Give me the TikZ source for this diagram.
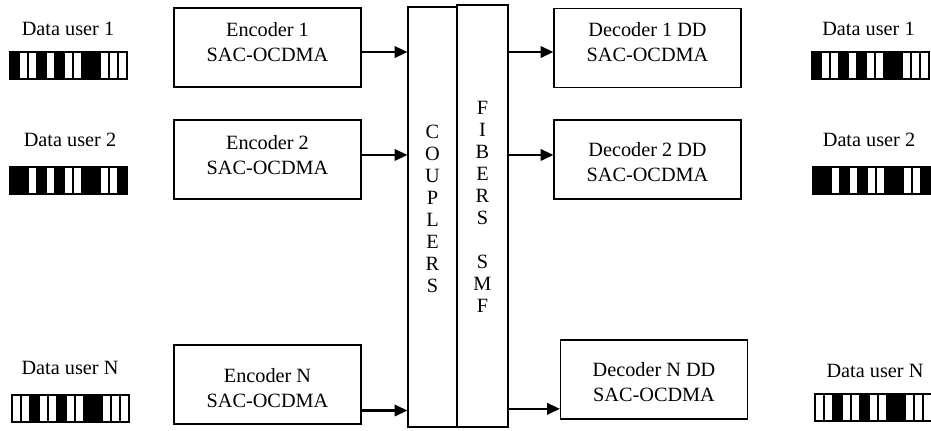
\documentclass[tikz,border=0pt]{standalone}
\usepackage{fontspec}
\setmainfont{Liberation Serif}
\usetikzlibrary{arrows.meta}
\tikzstyle{block} = [rectangle, 
draw=black, line width=0.9pt, 
minimum width=140.25pt, 
minimum height=59.25pt, 
inner sep=0pt]
\tikzstyle{column} = [rectangle, 
draw=black, line width=0.9pt, 
minimum height=315pt, 
inner sep=0pt]
\tikzstyle{txt} = [align=center, inner sep=0pt, 
font=\fontsize{15.2}{18.7}\selectfont]
\tikzstyle{stack} = [align=center, inner sep=0pt, 
font=\fontsize{15.2}{16.5}\selectfont]
\tikzstyle{cell} = [draw=black, line width=1.1pt]
\tikzstyle{arrow} = [line width=1.6pt, -{Triangle[length=9.5pt,width=8.5pt]}]

\begin{document}
\begin{tikzpicture}[x=0.75pt, y=-0.75pt]
\useasboundingbox (0,0) rectangle (931,430);

% data users (senders)
\node (send1) [txt] at (68,28.5) {Data user 1};
\node (send2) [txt] at (70,140) {Data user 2};
\node (sendN) [txt] at (70,367.5) {Data user N};

% data users (receivers)
\node (recv1) [txt] at (868.5,28.5) {Data user 1};
\node (recv2) [txt] at (869,140) {Data user 2};
\node (recvN) [txt] at (875,371) {Data user N};

% bit patterns
\foreach \bx/\by/\code in {10/52/{1,0,0,1,0,1,0,0,1,1,0,0,0},
  10/167/{1,1,0,1,0,1,0,0,1,1,0,0,1},
  12/395/{0,0,1,0,0,1,0,0,1,1,0,0,0},
  812/52/{1,0,0,1,0,1,0,0,1,1,0,0,0},
  813/167/{1,1,0,1,0,1,0,0,1,1,0,0,1},
  815/394/{0,0,1,0,0,1,0,0,1,1,0,0,0}}{
  \foreach \c [count=\i from 0] in \code {
    \ifnum\c=1 \def\cellcol{black}\else\def\cellcol{white}\fi
    \draw [cell, fill=\cellcol] (\bx+\i*9,\by) rectangle ++(9,27);
  }
}

% encoders
\node (enc1) [block] at (267.5,47.5) {};
\node (enc1txt) [txt] at (267.5,42.5) {Encoder 1\\SAC-OCDMA};
\node (enc2) [block] at (267.5,159.5) {};
\node (enc2txt) [txt] at (267.5,155.5) {Encoder 2\\SAC-OCDMA};
\node (encN) [block] at (267.5,384.5) {};
\node (encNtxt) [txt] at (267.5,388) {Encoder N\\SAC-OCDMA};

% couplers and fibers
\node (couplers) [column, minimum width=36.75pt] at (432.5,217) {};
\node (fibers) [column, minimum width=38.25pt, minimum height=316.5pt] at (482.5,216) {};
\node (couplerstxt) [stack] at (432.5,209) {C\\O\\U\\P\\L\\E\\R\\S};
\node (fiberstxt) [stack] at (482.5,207) {F\\I\\B\\E\\R\\S\\[16.5pt]S\\M\\F};

% decoders
\node (dec1) [block] at (647.5,48) {};
\node (dec1txt) [txt] at (647.5,42.5) {Decoder 1 DD\\SAC-OCDMA};
\node (dec2) [block] at (647.5,159.5) {};
\node (dec2txt) [txt] at (647.5,162) {Decoder 2 DD\\SAC-OCDMA};
\node (decN) [block] at (654,379.5) {};
\node (decNtxt) [txt] at (654,382) {Decoder N DD\\SAC-OCDMA};

% connections
\draw [arrow] ([yshift=-3.4pt]enc1.east) -- ([yshift=-3.4pt]enc1.east -| couplers.west);
\draw [arrow] ([yshift=3.4pt]enc2.east) -- ([yshift=3.4pt]enc2.east -| couplers.west);
\draw [arrow] ([yshift=-19.5pt]encN.east) -- ([yshift=-19.5pt]encN.east -| couplers.west);
\draw [arrow] ([yshift=-3pt]dec1.west -| fibers.east) -- ([yshift=-3pt]dec1.west);
\draw [arrow] ([yshift=3.4pt]dec2.west -| fibers.east) -- ([yshift=3.4pt]dec2.west);
\draw [arrow] ([yshift=-22pt]decN.west -| fibers.east) -- ([yshift=-22pt]decN.west);

\end{tikzpicture}
\end{document}
